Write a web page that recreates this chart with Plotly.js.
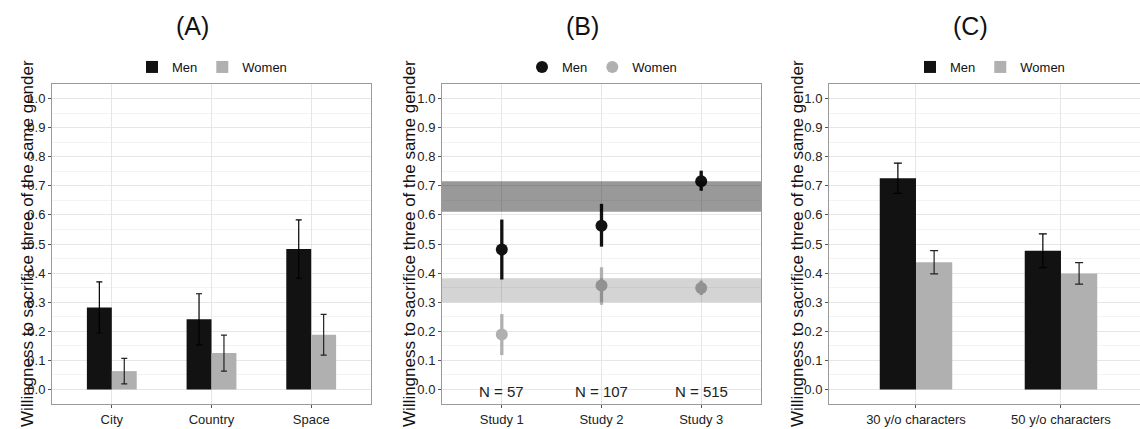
<!DOCTYPE html>
<html><head><meta charset="utf-8">
<script src="https://cdn.plot.ly/plotly-3.0.1.min.js"></script>
<style>html,body{margin:0;padding:0;background:#fff}</style>
</head><body><div id="chart" style="width:1140px;height:429px"></div>
<script>
// ---- Panel A: scenarios ----
const scenarioCats = ['City', 'Country', 'Space'];
const scenarioMen = [0.282, 0.241, 0.483];
const scenarioMenErr = [0.088, 0.088, 0.100];
const scenarioWomen = [0.063, 0.125, 0.188];
const scenarioWomenErr = [0.044, 0.062, 0.070];

// ---- Panel B: studies ----
const studyCats = ['Study 1', 'Study 2', 'Study 3'];
const studyN = [57, 107, 515];
const studyMen = [0.481, 0.563, 0.716];
const studyMenLo = [0.378, 0.491, 0.683];
const studyMenHi = [0.584, 0.638, 0.752];
const studyWomen = [0.189, 0.357, 0.349];
const studyWomenLo = [0.118, 0.291, 0.325];
const studyWomenHi = [0.259, 0.420, 0.374];
const bandMen = [0.611, 0.716];
const bandWomen = [0.300, 0.382];

// ---- Panel C: character age ----
const ageCats = ['30 y/o characters', '50 y/o characters'];
const ageMen = [0.726, 0.477];
const ageMenErr = [0.052, 0.058];
const ageWomen = [0.437, 0.399];
const ageWomenErr = [0.040, 0.037];

const panelTitles = ['(A)', '(B)', '(C)'];
const yTitle = 'Willingness to sacrifice three of the same gender';
const seriesNames = ['Men', 'Women'];

const FONT = 'Liberation Sans, Arial, Helvetica, sans-serif';
const MEN = '#121212';
const WOMEN = '#b0b0b0';

const traces = [
  {type: 'bar', name: seriesNames[0], x: scenarioCats, y: scenarioMen, xaxis: 'x', yaxis: 'y', legend: 'legend',
   marker: {color: MEN}, error_y: {type: 'data', array: scenarioMenErr, color: '#000', thickness: 1.2, width: 3}},
  {type: 'bar', name: seriesNames[1], x: scenarioCats, y: scenarioWomen, xaxis: 'x', yaxis: 'y', legend: 'legend',
   marker: {color: WOMEN}, error_y: {type: 'data', array: scenarioWomenErr, color: '#222', thickness: 1.2, width: 3}},
  {type: 'scatter', mode: 'markers', name: seriesNames[0], x: studyCats, y: studyMen, xaxis: 'x2', yaxis: 'y2', legend: 'legend2',
   marker: {color: MEN, size: 12},
   error_y: {type: 'data', symmetric: false, array: studyMenHi.map((h, i) => h - studyMen[i]),
             arrayminus: studyMenLo.map((l, i) => studyMen[i] - l), color: MEN, thickness: 3.3, width: 0}},
  {type: 'scatter', mode: 'markers', name: seriesNames[1], x: studyCats, y: studyWomen, xaxis: 'x2', yaxis: 'y2', legend: 'legend2',
   marker: {color: WOMEN, size: 12},
   error_y: {type: 'data', symmetric: false, array: studyWomenHi.map((h, i) => h - studyWomen[i]),
             arrayminus: studyWomenLo.map((l, i) => studyWomen[i] - l), color: WOMEN, thickness: 3.3, width: 0}},
  {type: 'bar', name: seriesNames[0], x: ageCats, y: ageMen, xaxis: 'x3', yaxis: 'y3', legend: 'legend3',
   marker: {color: MEN}, error_y: {type: 'data', array: ageMenErr, color: '#000', thickness: 1.2, width: 4}},
  {type: 'bar', name: seriesNames[1], x: ageCats, y: ageWomen, xaxis: 'x3', yaxis: 'y3', legend: 'legend3',
   marker: {color: WOMEN}, error_y: {type: 'data', array: ageWomenErr, color: '#222', thickness: 1.2, width: 4}}
];

const H = 429, W = 1140;
const yDom = [25 / H, 345 / H];
function yAxis(anchor) {
  return {
    domain: yDom, anchor: anchor, range: [-0.05, 1.05], tick0: 0, dtick: 0.1, tickformat: '.1f',
    showgrid: true, gridcolor: '#e6e6e6', gridwidth: 1, zeroline: false,
    minor: {dtick: 0.05, showgrid: true, gridcolor: '#f3f3f3', gridwidth: 1},
    showline: true, linecolor: '#9a9a9a', linewidth: 1, mirror: anchor !== 'x3',
    ticks: 'outside', ticklen: 3, tickcolor: '#555', tickwidth: 1,
    tickfont: {family: FONT, size: 13, color: '#222'}, fixedrange: true
  };
}
function xAxis(anchor, dom, range) {
  return {
    domain: dom, anchor: anchor, range: range, type: 'category',
    showgrid: true, gridcolor: '#e6e6e6', gridwidth: 1, zeroline: false,
    showline: true, linecolor: '#9a9a9a', linewidth: 1, mirror: true,
    ticks: 'outside', ticklen: 3, tickcolor: '#555', tickwidth: 1,
    tickfont: {family: FONT, size: 13, color: '#222'}, fixedrange: true
  };
}

const annotations = [];
const titleX = [192, 582, 970];
const yTitleX = [28, 410, 798];
for (let i = 0; i < 3; i++) {
  annotations.push({text: panelTitles[i], xref: 'paper', yref: 'paper', x: titleX[i] / W, y: 1 - 26 / H,
    xanchor: 'center', yanchor: 'middle', showarrow: false, font: {family: FONT, size: 25, color: '#111'}});
  annotations.push({text: yTitle, xref: 'paper', yref: 'paper', x: yTitleX[i] / W, y: 1 - 244 / H, textangle: -90,
    xanchor: 'center', yanchor: 'middle', showarrow: false, font: {family: FONT, size: 17, color: '#111'}});
}
studyCats.forEach((c, i) => {
  annotations.push({text: 'N = ' + studyN[i], xref: 'x2', yref: 'y2', x: c, y: 0, yshift: -2,
    xanchor: 'center', yanchor: 'middle', showarrow: false, font: {family: FONT, size: 15, color: '#222'}});
});

const shapes = [
  {type: 'rect', xref: 'x2 domain', x0: 0, x1: 1, yref: 'y2', y0: bandMen[0], y1: bandMen[1],
   fillcolor: 'rgba(0,0,0,0.40)', line: {width: 0}, layer: 'above'},
  {type: 'rect', xref: 'x2 domain', x0: 0, x1: 1, yref: 'y2', y0: bandWomen[0], y1: bandWomen[1],
   fillcolor: 'rgba(0,0,0,0.17)', line: {width: 0}, layer: 'above'}
];

function leg(xc) {
  return {orientation: 'h', x: xc / W, xanchor: 'center', y: 1 - 67 / H, yanchor: 'middle',
    font: {family: FONT, size: 13, color: '#111'}, bgcolor: 'rgba(0,0,0,0)', itemwidth: 30,
    traceorder: 'normal'};
}

const layout = {
  width: W, height: H, margin: {l: 0, r: 0, t: 0, b: 0},
  paper_bgcolor: '#fff', plot_bgcolor: '#fff',
  barmode: 'group', bargap: 0.5, bargroupgap: 0,
  showlegend: true,
  legend: leg(212), legend2: leg(602), legend3: leg(990),
  xaxis: xAxis('y', [52 / W, 371 / W], [-0.6, 2.6]),
  yaxis: yAxis('x'),
  xaxis2: xAxis('y2', [442 / W, 761 / W], [-0.6, 2.6]),
  yaxis2: yAxis('x2'),
  xaxis3: xAxis('y3', [829 / W, 1], [-0.6, 1.545]),
  yaxis3: yAxis('x3'),
  annotations: annotations, shapes: shapes
};

Plotly.newPlot('chart', traces, layout, {staticPlot: true, displayModeBar: false});
</script>
</body></html>
